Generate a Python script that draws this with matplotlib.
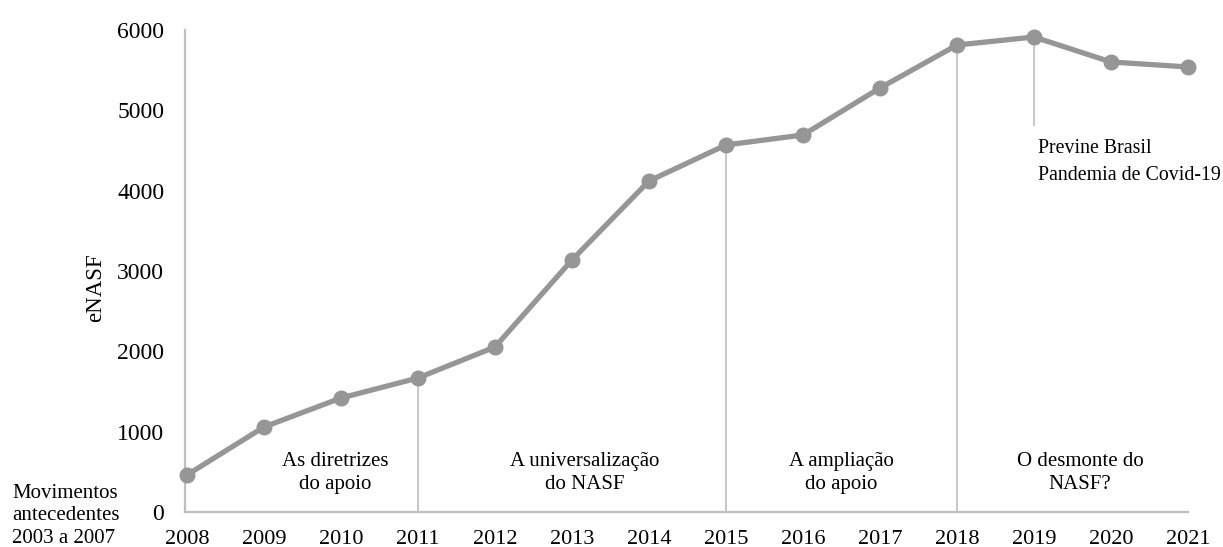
import matplotlib.pyplot as plt

plt.rcParams['font.family'] = ['Liberation Serif', 'DejaVu Serif']

anos = list(range(2008, 2022))
enasf = [461, 1058, 1419, 1668, 2054, 3137, 4120, 4569, 4693, 5278, 5813, 5913, 5602, 5540]

# years that open a new period, plus the 2019 marker that carries the note
marcos = [2011, 2015, 2018]
marco_2019_ate = 4800

periodos = ["As diretrizes\ndo apoio", "A universalização\ndo NASF",
            "A ampliação\ndo apoio", "O desmonte do\nNASF?"]
periodos_x = [2009.92, 2013.16, 2016.5, 2019.6]

fig = plt.figure(figsize=(12.23, 5.47), dpi=100)
ax = fig.add_axes([185 / 1223, 35 / 547, 1003 / 1223, 482 / 547])

cinza = "#969696"
ax.plot(anos, enasf, color=cinza, lw=3.8, marker="o", markersize=10.5,
        solid_capstyle="round", clip_on=False, zorder=3)

for ano in marcos:
    v = enasf[anos.index(ano)]
    ax.vlines(ano, 0, v, color="#c4c4c4", lw=1.3, zorder=2)
ax.vlines(2019, marco_2019_ate, enasf[anos.index(2019)], color="#c4c4c4", lw=1.3, zorder=2)

ax.set_xlim(2007.975, 2021)
ax.set_ylim(0, 6000)
ax.set_xticks(anos)
ax.set_yticks(range(0, 6001, 1000))
ax.tick_params(length=0, colors="black")
ax.tick_params(axis="y", pad=15, labelsize=17)
ax.tick_params(axis="x", pad=13, labelsize=16)

for lado in ["top", "right"]:
    ax.spines[lado].set_visible(False)
for lado in ["left", "bottom"]:
    ax.spines[lado].set_color("#bfbfbf")
    ax.spines[lado].set_linewidth(1.6)

ax.set_ylabel("eNASF", fontsize=16.5)
ax.yaxis.set_label_coords(-0.079, 0.465)

for txt, x in zip(periodos, periodos_x):
    ax.text(x, 490, txt, ha="center", va="center", fontsize=15, linespacing=1.3)

ax.text(2019.05, 4360, "Previne Brasil\nPandemia de Covid-19", ha="left", va="center",
        fontsize=14.3, linespacing=1.6)

fig.text(12 / 1223, 1 - 516 / 547, "Movimentos\nantecedentes\n2003 a 2007",
         ha="left", va="center", fontsize=15, linespacing=1.22)

fig.savefig("out.png", dpi=100, facecolor="white")
